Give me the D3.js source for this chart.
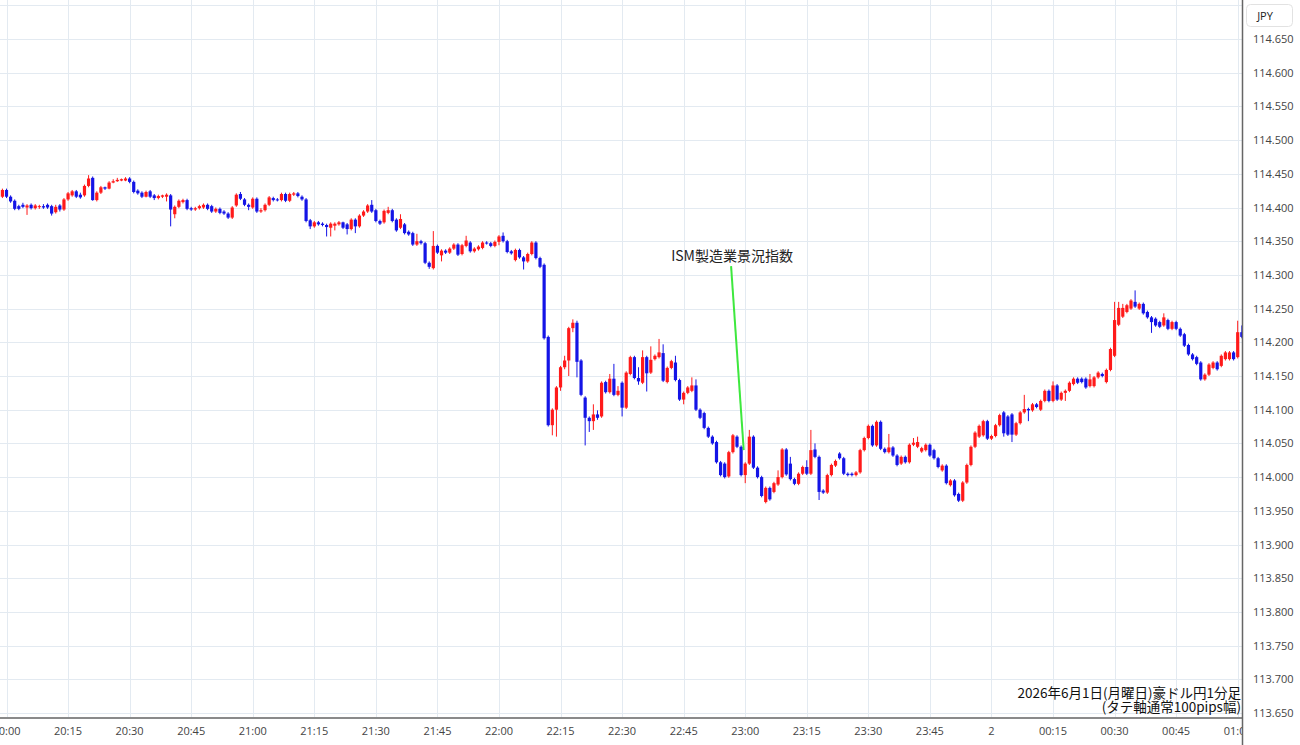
<!DOCTYPE html>
<meta charset="utf-8">
<style>
  body { margin: 0; background: #fff; }
  svg { display: block; font-family: "Open Sans", "Noto Sans", sans-serif; }
  .grid line { stroke: #e3eaf1; stroke-width: 1; }
  .tlabel { font-size: 11px; fill: #444; }
  .plabel { font-size: 11px; fill: #444; }
  .jp { font-family: "Noto Sans CJK JP", sans-serif; }
</style>
<svg width="1300" height="745"></svg>
<script src="https://d3js.org/d3.v7.min.js"></script>
<script>

  // AUD/JPY 1 minute candles, first one at 19:59 (2026-06-01), one per minute
  var firstCandle = new Date(2026, 5, 1, 19, 59);

  var opens = [
    114.416, 114.426, 114.416, 114.410, 114.402, 114.404, 114.400, 114.404, 114.399, 114.401,
    114.402, 114.404, 114.402, 114.393, 114.403, 114.397, 114.412, 114.418, 114.424, 114.419,
    114.418, 114.432, 114.444, 114.411, 114.422, 114.430, 114.428, 114.437, 114.439, 114.440,
    114.440, 114.443, 114.438, 114.425, 114.422, 114.416, 114.424, 114.418, 114.414, 114.416,
    114.416, 114.418, 114.390, 114.401, 114.408, 114.411, 114.399, 114.397, 114.399, 114.400,
    114.404, 114.402, 114.394, 114.398, 114.394, 114.391, 114.385, 114.403, 114.420, 114.412,
    114.404, 114.400, 114.413, 114.394, 114.396, 114.404, 114.414, 114.412, 114.411, 114.420,
    114.410, 114.419, 114.421, 114.416, 114.412, 114.381, 114.372, 114.378, 114.376, 114.374,
    114.370, 114.373, 114.375, 114.378, 114.375, 114.368, 114.382, 114.372, 114.388, 114.394,
    114.404, 114.396, 114.380, 114.378, 114.392, 114.396, 114.382, 114.370, 114.375, 114.364,
    114.362, 114.345, 114.350, 114.347, 114.318, 114.310, 114.343, 114.329, 114.336, 114.333,
    114.339, 114.345, 114.331, 114.343, 114.348, 114.335, 114.338, 114.340, 114.348, 114.347,
    114.343, 114.349, 114.358, 114.350, 114.335, 114.322, 114.337, 114.326, 114.320, 114.331,
    114.348, 114.325, 114.315, 114.208, 114.077, 114.100, 114.133, 114.163, 114.173, 114.221,
    114.229, 114.173, 114.118, 114.088, 114.083, 114.093, 114.090, 114.141, 114.126, 114.146,
    114.122, 114.140, 114.103, 114.153, 114.178, 114.147, 114.140, 114.178, 114.155, 114.175,
    114.178, 114.184, 114.141, 114.162, 114.170, 114.144, 114.115, 114.125, 114.128, 114.136,
    114.100, 114.095, 114.073, 114.060, 114.052, 114.022, 114.020, 114.001, 114.037, 114.060,
    114.045, 114.003, 114.020, 114.060, 114.014, 114.000, 113.963, 113.984, 113.978, 113.989,
    114.000, 114.041, 114.020, 113.997, 113.990, 114.005, 114.015, 114.005, 114.041, 114.030,
    113.980, 113.977, 114.003, 114.017, 114.035, 114.028, 114.005, 114.005, 114.003, 114.007,
    114.040, 114.058, 114.076, 114.047, 114.082, 114.042, 114.037, 114.044, 114.032, 114.020,
    114.030, 114.022, 114.048, 114.045, 114.038, 114.040, 114.048, 114.040, 114.028, 114.010,
    114.017, 113.988, 113.995, 113.975, 113.965, 113.992, 114.018, 114.045, 114.060, 114.062,
    114.083, 114.057, 114.061, 114.077, 114.096, 114.090, 114.093, 114.063, 114.080, 114.096,
    114.101, 114.099, 114.108, 114.100, 114.113, 114.128, 114.113, 114.136, 114.115, 114.125,
    114.128, 114.138, 114.146, 114.146, 114.146, 114.135, 114.135, 114.148, 114.153, 114.141,
    114.159, 114.180, 114.226, 114.238, 114.245, 114.250, 114.260, 114.250, 114.257, 114.245,
    114.237, 114.235, 114.230, 114.225, 114.233, 114.220, 114.230, 114.220, 114.212, 114.196,
    114.182, 114.178, 114.170, 114.145, 114.152, 114.162, 114.170, 114.165, 114.175, 114.175,
    114.185, 114.178, 114.215
  ];

  var highs = [
    114.428, 114.428, 114.418, 114.412, 114.404, 114.407, 114.405, 114.406, 114.405, 114.404,
    114.405, 114.406, 114.404, 114.404, 114.405, 114.414, 114.423, 114.426, 114.426, 114.422,
    114.434, 114.448, 114.446, 114.424, 114.432, 114.431, 114.439, 114.442, 114.444, 114.443,
    114.445, 114.445, 114.440, 114.427, 114.424, 114.425, 114.426, 114.420, 114.419, 114.419,
    114.421, 114.420, 114.403, 114.412, 114.413, 114.413, 114.401, 114.401, 114.404, 114.406,
    114.406, 114.404, 114.400, 114.400, 114.396, 114.393, 114.402, 114.421, 114.423, 114.414,
    114.406, 114.415, 114.415, 114.399, 114.406, 114.417, 114.416, 114.414, 114.422, 114.422,
    114.422, 114.423, 114.423, 114.418, 114.414, 114.383, 114.380, 114.380, 114.378, 114.376,
    114.378, 114.378, 114.380, 114.379, 114.377, 114.384, 114.384, 114.390, 114.396, 114.405,
    114.411, 114.398, 114.382, 114.397, 114.401, 114.398, 114.384, 114.390, 114.377, 114.366,
    114.364, 114.361, 114.352, 114.349, 114.320, 114.365, 114.345, 114.338, 114.338, 114.341,
    114.347, 114.347, 114.346, 114.358, 114.350, 114.341, 114.344, 114.350, 114.350, 114.349,
    114.351, 114.359, 114.363, 114.352, 114.337, 114.339, 114.339, 114.328, 114.333, 114.350,
    114.350, 114.327, 114.317, 114.210, 114.102, 114.135, 114.165, 114.180, 114.223, 114.234,
    114.232, 114.175, 114.120, 114.090, 114.108, 114.099, 114.142, 114.143, 114.153, 114.168,
    114.135, 114.142, 114.157, 114.180, 114.180, 114.163, 114.188, 114.180, 114.194, 114.182,
    114.205, 114.197, 114.164, 114.174, 114.180, 114.146, 114.127, 114.135, 114.148, 114.145,
    114.102, 114.097, 114.075, 114.062, 114.054, 114.024, 114.022, 114.039, 114.064, 114.062,
    114.047, 114.022, 114.070, 114.062, 114.016, 114.002, 113.986, 113.986, 113.993, 114.010,
    114.043, 114.043, 114.030, 113.999, 114.007, 114.017, 114.025, 114.070, 114.050, 114.032,
    113.982, 114.005, 114.020, 114.026, 114.037, 114.030, 114.007, 114.007, 114.009, 114.042,
    114.060, 114.078, 114.078, 114.084, 114.084, 114.044, 114.064, 114.046, 114.034, 114.032,
    114.032, 114.050, 114.058, 114.060, 114.045, 114.050, 114.050, 114.042, 114.030, 114.019,
    114.019, 113.997, 113.997, 113.977, 113.994, 114.020, 114.047, 114.068, 114.078, 114.085,
    114.085, 114.063, 114.079, 114.094, 114.098, 114.092, 114.095, 114.082, 114.098, 114.122,
    114.103, 114.110, 114.110, 114.115, 114.130, 114.130, 114.142, 114.138, 114.127, 114.130,
    114.142, 114.148, 114.148, 114.148, 114.148, 114.153, 114.150, 114.157, 114.155, 114.161,
    114.192, 114.260, 114.260, 114.257, 114.257, 114.264, 114.277, 114.259, 114.259, 114.247,
    114.239, 114.237, 114.232, 114.243, 114.235, 114.232, 114.232, 114.222, 114.214, 114.198,
    114.184, 114.180, 114.172, 114.154, 114.169, 114.172, 114.172, 114.182, 114.187, 114.187,
    114.187, 114.232, 114.225
  ];

  var lows = [
    114.414, 114.414, 114.407, 114.396, 114.396, 114.399, 114.389, 114.397, 114.397, 114.398,
    114.398, 114.398, 114.388, 114.391, 114.394, 114.395, 114.410, 114.416, 114.414, 114.413,
    114.416, 114.430, 114.410, 114.409, 114.420, 114.426, 114.427, 114.436, 114.438, 114.439,
    114.439, 114.436, 114.421, 114.419, 114.414, 114.415, 114.414, 114.411, 114.412, 114.414,
    114.409, 114.372, 114.384, 114.399, 114.406, 114.396, 114.395, 114.395, 114.397, 114.398,
    114.396, 114.392, 114.392, 114.390, 114.389, 114.383, 114.383, 114.401, 114.411, 114.402,
    114.396, 114.398, 114.392, 114.392, 114.394, 114.402, 114.409, 114.409, 114.409, 114.408,
    114.408, 114.417, 114.415, 114.410, 114.378, 114.368, 114.370, 114.373, 114.372, 114.357,
    114.357, 114.366, 114.373, 114.368, 114.360, 114.366, 114.362, 114.370, 114.386, 114.392,
    114.392, 114.378, 114.374, 114.376, 114.390, 114.378, 114.364, 114.368, 114.360, 114.358,
    114.343, 114.343, 114.345, 114.316, 114.309, 114.308, 114.331, 114.320, 114.331, 114.331,
    114.337, 114.328, 114.329, 114.341, 114.333, 114.333, 114.336, 114.338, 114.345, 114.341,
    114.341, 114.344, 114.348, 114.332, 114.330, 114.320, 114.324, 114.308, 114.318, 114.329,
    114.323, 114.310, 114.204, 114.075, 114.062, 114.060, 114.128, 114.160, 114.150, 114.215,
    114.148, 114.120, 114.047, 114.067, 114.070, 114.085, 114.088, 114.124, 114.124, 114.120,
    114.120, 114.090, 114.101, 114.151, 114.145, 114.137, 114.138, 114.127, 114.153, 114.173,
    114.176, 114.141, 114.139, 114.160, 114.142, 114.113, 114.108, 114.123, 114.126, 114.098,
    114.086, 114.071, 114.058, 114.048, 114.020, 114.001, 113.998, 113.999, 114.035, 114.043,
    114.001, 113.991, 114.018, 114.012, 113.998, 113.970, 113.961, 113.965, 113.976, 113.987,
    113.998, 114.002, 113.995, 113.988, 113.988, 114.003, 114.003, 114.003, 114.028, 113.966,
    113.975, 113.975, 114.001, 114.015, 114.026, 114.003, 114.001, 114.001, 114.001, 114.005,
    114.038, 114.056, 114.045, 114.045, 114.040, 114.035, 114.035, 114.030, 114.016, 114.018,
    114.020, 114.020, 114.046, 114.043, 114.036, 114.038, 114.030, 114.026, 114.013, 114.008,
    113.989, 113.986, 113.971, 113.963, 113.963, 113.990, 114.016, 114.043, 114.058, 114.060,
    114.055, 114.055, 114.059, 114.075, 114.060, 114.061, 114.052, 114.061, 114.078, 114.094,
    114.083, 114.097, 114.102, 114.098, 114.111, 114.111, 114.111, 114.113, 114.113, 114.113,
    114.126, 114.136, 114.138, 114.139, 114.131, 114.133, 114.133, 114.146, 114.148, 114.139,
    114.157, 114.178, 114.224, 114.236, 114.243, 114.248, 114.251, 114.248, 114.241, 114.235,
    114.214, 114.223, 114.221, 114.223, 114.218, 114.218, 114.218, 114.208, 114.193, 114.180,
    114.173, 114.166, 114.143, 114.143, 114.150, 114.160, 114.158, 114.163, 114.173, 114.173,
    114.173, 114.176, 114.206
  ];

  var closes = [
    114.426, 114.416, 114.409, 114.398, 114.398, 114.401, 114.403, 114.399, 114.403, 114.402,
    114.400, 114.400, 114.391, 114.401, 114.397, 114.412, 114.421, 114.424, 114.416, 114.415,
    114.432, 114.443, 114.411, 114.422, 114.430, 114.428, 114.437, 114.439, 114.441, 114.442,
    114.443, 114.438, 114.423, 114.421, 114.416, 114.423, 114.416, 114.414, 114.417, 114.418,
    114.419, 114.397, 114.401, 114.410, 114.411, 114.398, 114.397, 114.399, 114.402, 114.404,
    114.398, 114.394, 114.398, 114.392, 114.391, 114.385, 114.400, 114.419, 114.413, 114.404,
    114.401, 114.413, 114.394, 114.396, 114.404, 114.415, 114.411, 114.411, 114.420, 114.410,
    114.420, 114.421, 114.417, 114.412, 114.380, 114.372, 114.378, 114.375, 114.374, 114.371,
    114.376, 114.376, 114.378, 114.370, 114.368, 114.382, 114.372, 114.388, 114.394, 114.403,
    114.394, 114.380, 114.376, 114.395, 114.396, 114.380, 114.366, 114.383, 114.362, 114.360,
    114.345, 114.350, 114.347, 114.318, 114.312, 114.343, 114.333, 114.336, 114.333, 114.339,
    114.345, 114.330, 114.344, 114.351, 114.335, 114.339, 114.342, 114.348, 114.347, 114.343,
    114.349, 114.357, 114.350, 114.334, 114.332, 114.337, 114.326, 114.320, 114.331, 114.348,
    114.325, 114.312, 114.206, 114.077, 114.100, 114.133, 114.163, 114.173, 114.221, 114.229,
    114.171, 114.122, 114.088, 114.083, 114.093, 114.088, 114.140, 114.126, 114.146, 114.122,
    114.128, 114.103, 114.155, 114.178, 114.147, 114.142, 114.178, 114.154, 114.174, 114.180,
    114.185, 114.143, 114.162, 114.172, 114.144, 114.115, 114.125, 114.133, 114.136, 114.100,
    114.088, 114.073, 114.060, 114.050, 114.022, 114.003, 114.000, 114.037, 114.062, 114.045,
    114.003, 114.020, 114.060, 114.014, 114.000, 113.972, 113.984, 113.967, 113.991, 114.000,
    114.041, 114.004, 113.997, 113.990, 114.005, 114.015, 114.005, 114.040, 114.030, 113.978,
    113.977, 114.003, 114.018, 114.024, 114.028, 114.005, 114.003, 114.003, 114.007, 114.040,
    114.058, 114.076, 114.047, 114.082, 114.042, 114.037, 114.044, 114.032, 114.018, 114.030,
    114.022, 114.048, 114.051, 114.052, 114.043, 114.048, 114.032, 114.028, 114.015, 114.017,
    113.991, 113.995, 113.973, 113.965, 113.992, 114.018, 114.045, 114.066, 114.076, 114.083,
    114.057, 114.061, 114.077, 114.092, 114.065, 114.063, 114.063, 114.080, 114.096, 114.101,
    114.099, 114.108, 114.104, 114.113, 114.128, 114.113, 114.136, 114.115, 114.125, 114.128,
    114.140, 114.146, 114.140, 114.141, 114.133, 114.145, 114.148, 114.155, 114.150, 114.159,
    114.190, 114.233, 114.251, 114.251, 114.255, 114.262, 114.253, 114.257, 114.243, 114.237,
    114.230, 114.225, 114.223, 114.237, 114.220, 114.230, 114.220, 114.210, 114.195, 114.182,
    114.175, 114.168, 114.145, 114.152, 114.167, 114.170, 114.160, 114.180, 114.185, 114.185,
    114.175, 114.215, 114.208
  ];

  var priceTicks = [113.65, 113.70, 113.75, 113.80, 113.85, 113.90, 113.95, 114.00, 114.05,
                    114.10, 114.15, 114.20, 114.25, 114.30, 114.35, 114.40, 114.45, 114.50,
                    114.55, 114.60, 114.65];
  var gridPrices = [113.60].concat(priceTicks, [114.70]);

  var eventLabel = "ISM製造業景況指数";
  var eventTime = new Date(2026, 5, 1, 23, 0);
  var eventPrice = 114.04;
  var captionLines = ["2026年6月1日(月曜日)豪ドル円1分足", "(タテ軸通常100pips幅)"];
  var currency = "JPY";

  var upColor = "#ff1a1a", downColor = "#1414e6";

  var svg = d3.select("svg"),
      plotRight = 1242,
      plotBottom = 718;

  var x = d3.scaleTime()
      .domain([new Date(2026, 5, 1, 20, 0), new Date(2026, 5, 2, 1, 0)])
      .range([6.5, 1237.7]);
  var y = d3.scaleLinear().domain([113.65, 114.65]).range([713, 39]);

  var candles = closes.map(function(c, k) {
    return { t: d3.timeMinute.offset(firstCandle, k), o: opens[k], h: highs[k], l: lows[k], c: c };
  });

  var defs = svg.append("defs");
  defs.append("clipPath").attr("id", "plot-clip")
    .append("rect").attr("x", 0).attr("y", 0).attr("width", plotRight).attr("height", plotBottom);
  defs.append("clipPath").attr("id", "xlab-clip")
    .append("rect").attr("x", 0).attr("y", plotBottom).attr("width", plotRight).attr("height", 40);

  // grid
  var timeTicks = d3.timeMinute.every(15).range(new Date(2026, 5, 1, 20, 0), new Date(2026, 5, 2, 1, 1));
  var grid = svg.append("g").attr("class", "grid").attr("clip-path", "url(#plot-clip)");
  grid.selectAll(".v").data(timeTicks).join("line")
    .attr("x1", function(d) { return Math.round(x(d)) + 0.5; })
    .attr("x2", function(d) { return Math.round(x(d)) + 0.5; })
    .attr("y1", 0).attr("y2", plotBottom);
  grid.selectAll(".h").data(gridPrices).join("line")
    .attr("x1", 0).attr("x2", plotRight)
    .attr("y1", function(d) { return Math.round(y(d)) + 0.5; })
    .attr("y2", function(d) { return Math.round(y(d)) + 0.5; });

  // candles
  var plot = svg.append("g").attr("clip-path", "url(#plot-clip)");
  plot.selectAll(".wick").data(candles).join("line")
    .attr("x1", function(d) { return x(d.t); })
    .attr("x2", function(d) { return x(d.t); })
    .attr("y1", function(d) { return y(d.h); })
    .attr("y2", function(d) { return y(d.l); })
    .attr("stroke", function(d) { return d.c >= d.o ? upColor : downColor; })
    .attr("stroke-width", 1);
  plot.selectAll(".body").data(candles).join("rect")
    .attr("x", function(d) { return x(d.t) - 1.6; })
    .attr("width", 3.2)
    .attr("y", function(d) { return y(Math.max(d.o, d.c)); })
    .attr("height", function(d) { return Math.max(1, Math.abs(y(d.o) - y(d.c))); })
    .attr("fill", function(d) { return d.c >= d.o ? upColor : downColor; });

  // event marker
  var labelX = x(d3.timeSecond.offset(eventTime, -192));
  plot.append("line")
    .attr("x1", labelX - 1).attr("y1", y(114.313))
    .attr("x2", x(eventTime) - 1.5).attr("y2", y(eventPrice))
    .attr("stroke", "#3ee83e").attr("stroke-width", 2);
  svg.append("text").attr("class", "jp")
    .attr("x", labelX).attr("y", y(114.32))
    .attr("text-anchor", "middle")
    .style("font-size", "14px").style("fill", "#222")
    .text(eventLabel);

  // caption
  svg.append("g").attr("class", "jp")
    .selectAll("text").data(captionLines).join("text")
    .attr("x", 1241).attr("y", function(d, i) { return 698 + i * 14; })
    .attr("text-anchor", "end")
    .style("font-size", "13.5px").style("fill", "#111")
    .text(function(d) { return d; });

  // axes lines
  svg.append("line").attr("x1", 0).attr("x2", plotRight)
    .attr("y1", plotBottom).attr("y2", plotBottom)
    .attr("stroke", "#8a8a8a").attr("stroke-width", 2);
  svg.append("line").attr("x1", plotRight + 0.5).attr("x2", plotRight + 0.5)
    .attr("y1", 0).attr("y2", 745)
    .attr("stroke", "#666").attr("stroke-width", 1.5);

  // time labels
  var hm = d3.timeFormat("%H:%M"), day = d3.timeFormat("%-d");
  svg.append("g").attr("clip-path", "url(#xlab-clip)")
    .selectAll("text").data(timeTicks).join("text")
    .attr("class", "tlabel")
    .attr("x", function(d) { return x(d); })
    .attr("y", 735)
    .attr("text-anchor", "middle")
    .text(function(d) { return d.getHours() === 0 && d.getMinutes() === 0 ? day(d) : hm(d); });

  // price labels
  svg.append("g").selectAll("text").data(priceTicks).join("text")
    .attr("class", "plabel")
    .attr("x", 1253)
    .attr("y", function(d) { return y(d) + 4; })
    .text(function(d) { return d3.format(".3f")(d); });

  // currency box
  svg.append("rect")
    .attr("x", 1246.5).attr("y", 4.5).attr("width", 46).attr("height", 22).attr("rx", 4)
    .attr("fill", "#fff").attr("stroke", "#e2e2e2");
  svg.append("text").attr("class", "plabel")
    .attr("x", 1265).attr("y", 19.5).attr("text-anchor", "middle")
    .style("fill", "#222")
    .text(currency);

</script>
